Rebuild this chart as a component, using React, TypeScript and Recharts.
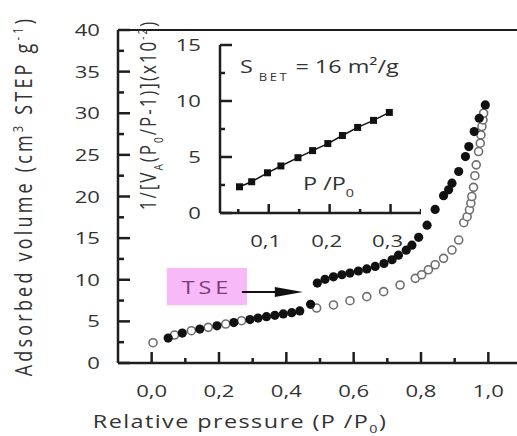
import React from "react";
import {
  ScatterChart,
  Scatter,
  XAxis,
  YAxis,
  ReferenceArea,
  ReferenceLine,
} from "recharts";

// adsorption branch (filled circles)
const adsorptionP = [0.049, 0.091, 0.143, 0.194, 0.244, 0.292, 0.316, 0.341, 0.366, 0.391, 0.416, 0.44, 0.472, 0.492, 0.515, 0.54, 0.565, 0.589, 0.614, 0.639, 0.664, 0.69, 0.714, 0.733, 0.756, 0.773, 0.793, 0.818, 0.842, 0.867, 0.882, 0.892, 0.912, 0.932, 0.942, 0.958, 0.973, 0.991];
const adsorptionV = [3.0, 3.6, 4.08, 4.46, 4.86, 5.22, 5.4, 5.56, 5.73, 5.89, 6.04, 6.25, 7.05, 9.6, 10.05, 10.35, 10.6, 10.8, 11.05, 11.3, 11.6, 11.95, 12.4, 12.95, 13.55, 14.15, 15.1, 16.55, 18.45, 20.1, 20.8, 21.6, 23.0, 24.8, 26.0, 27.8, 29.4, 31.0];

// desorption branch (open circles)
const desorptionP = [0.004, 0.068, 0.118, 0.168, 0.22, 0.267, 0.49, 0.54, 0.589, 0.639, 0.689, 0.738, 0.783, 0.802, 0.822, 0.842, 0.867, 0.892, 0.912, 0.927, 0.937, 0.944, 0.948, 0.951, 0.956, 0.96, 0.964, 0.971, 0.976, 0.978, 0.981, 0.984, 0.986];
const desorptionV = [2.44, 3.36, 3.88, 4.28, 4.68, 5.08, 6.6, 6.97, 7.48, 7.97, 8.57, 9.37, 10.17, 10.6, 11.2, 11.8, 12.57, 13.57, 14.77, 16.85, 17.57, 18.4, 19.2, 20.0, 21.1, 22.5, 23.8, 25.4, 26.4, 27.4, 28.4, 29.2, 30.0];

// BET plot (inset)
const betP = [0.052, 0.072, 0.098, 0.12, 0.148, 0.172, 0.197, 0.221, 0.246, 0.272, 0.298];
const betY = [2.34, 2.79, 3.59, 4.2, 4.94, 5.57, 6.2, 6.92, 7.64, 8.27, 8.98];

const mainXMajor = [0, 0.2, 0.4, 0.6, 0.8, 1.0];
const mainXMinor = [0.1, 0.3, 0.5, 0.7, 0.9];
const mainYMajor = [0, 5, 10, 15, 20, 25, 30, 35, 40];
const mainYMinor = [2.5, 7.5, 12.5, 17.5, 22.5, 27.5, 32.5, 37.5];
const insetXMajor = [0.1, 0.2, 0.3];
const insetXMinor = [0.05, 0.15, 0.25, 0.35];
const insetYMajor = [0, 5, 10, 15];
const insetYMinor = [2.5, 7.5, 12.5];

const MAIN_X: [number, number] = [-0.1, 1.1];
const MAIN_Y: [number, number] = [0, 40];
const INSET_X: [number, number] = [0.02, 0.35];
const INSET_Y: [number, number] = [0, 15];

const adsorption = adsorptionP.map((p, i) => ({ p, v: adsorptionV[i] }));
const desorption = desorptionP.map((p, i) => ({ p, v: desorptionV[i] }));
const bet = betP.map((p, i) => ({ p, v: betY[i] }));

// tick marks sit on the axes: x ticks at the bottom of the y range, y ticks at the left of the x range
const onXAxis = (ticks: number[], y0: number) => ticks.map((p) => ({ p, v: y0 }));
const onYAxis = (ticks: number[], x0: number) => ticks.map((v) => ({ p: x0, v }));
const mainXMinorMarks = onXAxis(mainXMinor, MAIN_Y[0]);
const mainYMinorMarks = onYAxis(mainYMinor, MAIN_X[0]);
const insetXMinorMarks = onXAxis(insetXMinor, INSET_Y[0]);
const insetYMinorMarks = onYAxis(insetYMinor, INSET_X[0]);

const INK = "#1e1e1e";
const TXT = "#333";
const FONT = "'Open Sans', 'DejaVu Sans', sans-serif";
const STRETCH = 1.3; // the source figure is stretched sideways

function WideText({ x, y, anchor = "middle", size = 17, fill = TXT, spacing = 0, rotate = false, children }: any) {
  const t = `translate(${x} ${y}) scale(${STRETCH} 1)${rotate ? " rotate(-90)" : ""}`;
  return (
    <text transform={t} textAnchor={anchor} fontSize={size} fontFamily={FONT} fill={fill} letterSpacing={spacing}>
      {children}
    </text>
  );
}

const comma = (v: number, d: number) => v.toFixed(d).replace(".", ",");

// labels: tickSize is negative (ticks point inward), tickMargin brings the anchor back to the axis line
const MainXLabel = ({ x, y, payload }: any) => (
  <WideText x={x} y={y + 34}>{comma(payload.value, 1)}</WideText>
);
const InsetXLabel = ({ x, y, payload }: any) => (
  <WideText x={x - 3} y={y + 34}>{comma(payload.value, 1)}</WideText>
);
const MainYLabel = ({ x, y, payload }: any) => (
  <WideText x={x - 18} y={y + 6} anchor="end">{payload.value}</WideText>
);
const InsetYLabel = ({ x, y, payload }: any) => (
  <WideText x={x - 19} y={y + 6} anchor="end">{payload.value}</WideText>
);

// minor tick marks as thin bars pointing into the plot
const UpTick5 = (p: any) => <rect x={p.cx - 1.25} y={p.cy - 5} width={2.5} height={5} fill={INK} />;
const UpTick4 = (p: any) => <rect x={p.cx - 1.25} y={p.cy - 4} width={2.5} height={4} fill={INK} />;
const RightTick6 = (p: any) => <rect x={p.cx} y={p.cy - 1.25} width={6} height={2.5} fill={INK} />;
const RightTick5 = (p: any) => <rect x={p.cx} y={p.cy - 1.25} width={5} height={2.5} fill={INK} />;

const axisStroke = { stroke: INK, strokeWidth: 2.5 };

const FilledDot = (p: any) => <circle cx={p.cx} cy={p.cy} r={4.6} fill="#111" />;
const OpenDot = (p: any) => (
  <circle cx={p.cx} cy={p.cy} r={4} fill="#fff" stroke="#6e6e6e" strokeWidth={1.6} />
);
const SquareDot = (p: any) => <rect x={p.cx - 3.5} y={p.cy - 3.5} width={7} height={7} fill="#111" />;

function Arrow(props: any) {
  const { x1, y1, x2, y2 } = props;
  return (
    <g>
      <line x1={x1} y1={y1} x2={x2 - 20} y2={y2} stroke="#111" strokeWidth={2} />
      <polygon points={`${x2},${y2} ${x2 - 28},${y2 - 5} ${x2 - 28},${y2 + 5}`} fill="#111" />
    </g>
  );
}

function TseLabel({ viewBox }: any) {
  return (
    <WideText x={viewBox.x + viewBox.width / 2} y={viewBox.y + viewBox.height / 2 + 7} size={18} fill="#7a3d7a" spacing={3}>
      TSE
    </WideText>
  );
}
const tseLabel = { content: (p: any) => <TseLabel {...p} /> };
const arrowSegment = [
  { x: 0.268, y: 8.53 },
  { x: 0.449, y: 8.53 },
];
const arrowShape = (p: any) => <Arrow {...p} />;
const betLine = { stroke: "#111", strokeWidth: 1.5 };

export default function App() {
  return (
    <div style={{ position: "fixed", left: 0, top: 0, width: 517, height: 436, overflow: "hidden", background: "#fff" }}>
      <div style={{ position: "absolute", left: 0, top: 0 }}>
        <ScatterChart width={540} height={436} margin={{ top: 30, right: 18, bottom: 72, left: 117 }}>
          <XAxis
            type="number"
            dataKey="p"
            domain={MAIN_X}
            ticks={mainXMajor}
            height={1}
            tickSize={-11}
            tickMargin={11}
            tickLine={axisStroke}
            tick={MainXLabel}
            axisLine={axisStroke}
            allowDataOverflow
          />
          <YAxis
            type="number"
            dataKey="v"
            domain={MAIN_Y}
            ticks={mainYMajor}
            width={1}
            tickSize={-12}
            tickMargin={12}
            tickLine={axisStroke}
            tick={MainYLabel}
            axisLine={axisStroke}
            allowDataOverflow
          />
          <ReferenceLine y={40} stroke={INK} strokeWidth={2} />
          <ReferenceArea
            x1={0.045}
            x2={0.283}
            y1={6.95}
            y2={11.4}
            fill="#f8b9f8"
            fillOpacity={1}
            stroke="none"
            label={tseLabel}
          />
          <ReferenceLine segment={arrowSegment} shape={arrowShape} />
          <Scatter data={mainXMinorMarks} shape={UpTick5} isAnimationActive={false} />
          <Scatter data={mainYMinorMarks} shape={RightTick6} isAnimationActive={false} />
          <Scatter data={desorption} shape={OpenDot} isAnimationActive={false} />
          <Scatter data={adsorption} shape={FilledDot} isAnimationActive={false} />
        </ScatterChart>
      </div>

      <div style={{ position: "absolute", left: 0, top: 0 }}>
        <ScatterChart width={440} height={260} margin={{ top: 45, right: 19, bottom: 46, left: 219 }}>
          <XAxis
            type="number"
            dataKey="p"
            domain={INSET_X}
            ticks={insetXMajor}
            height={1}
            tickSize={-9}
            tickMargin={9}
            tickLine={axisStroke}
            tick={InsetXLabel}
            axisLine={axisStroke}
            allowDataOverflow
          />
          <YAxis
            type="number"
            dataKey="v"
            domain={INSET_Y}
            ticks={insetYMajor}
            width={1}
            tickSize={-12}
            tickMargin={12}
            tickLine={axisStroke}
            tick={InsetYLabel}
            axisLine={axisStroke}
            allowDataOverflow
          />
          <Scatter data={insetXMinorMarks} shape={UpTick4} isAnimationActive={false} />
          <Scatter data={insetYMinorMarks} shape={RightTick5} isAnimationActive={false} />
          <Scatter data={bet} shape={SquareDot} line={betLine} isAnimationActive={false} />
        </ScatterChart>
      </div>

      <svg width={517} height={436} style={{ position: "absolute", left: 0, top: 0, pointerEvents: "none" }}>
        <WideText x={32} y={196} rotate size={18} spacing={3.2}>
          Adsorbed volume (cm
          <tspan dy={-7} fontSize={11}>3</tspan>
          <tspan dy={7}> STEP g</tspan>
          <tspan dy={-7} fontSize={11}>-1</tspan>
          <tspan dy={7}>)</tspan>
        </WideText>
        <WideText x={240} y={428} size={18} spacing={1.1}>
          Relative pressure (P /P
          <tspan dy={5} fontSize={11}>0</tspan>
          <tspan dy={-5}>)</tspan>
        </WideText>
        <WideText x={156} y={115} rotate size={17} spacing={2}>
          1/[V
          <tspan dy={5} fontSize={10}>A</tspan>
          <tspan dy={-5}>(P</tspan>
          <tspan dy={5} fontSize={10}>0</tspan>
          <tspan dy={-5}>/P-1)](x10</tspan>
          <tspan dy={-7} fontSize={10}>-2</tspan>
          <tspan dy={7}>)</tspan>
        </WideText>
        <WideText x={240} y={73} anchor="start" size={18}>
          S
          <tspan dy={8} fontSize={10} letterSpacing={2}> BET</tspan>
          <tspan dy={-8}> = 16 m²/g</tspan>
        </WideText>
        <WideText x={303} y={190} anchor="start" size={18}>
          P /P
          <tspan dy={7} fontSize={11}>0</tspan>
        </WideText>
      </svg>
    </div>
  );
}
